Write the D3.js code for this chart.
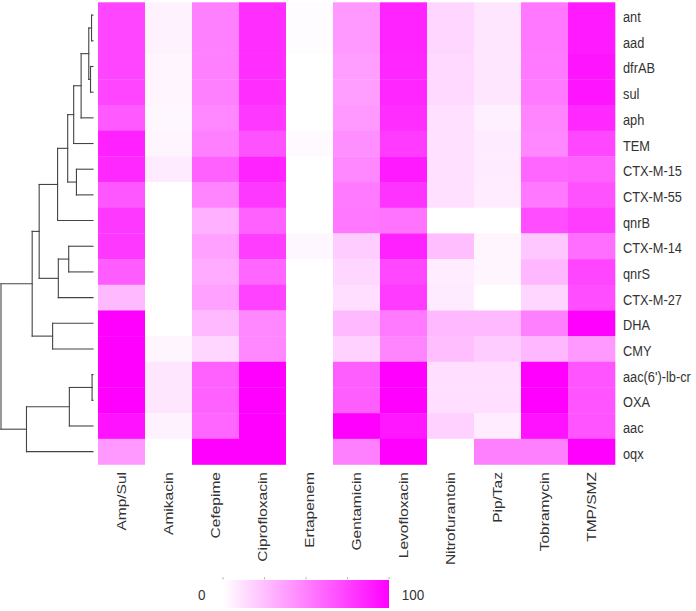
<!DOCTYPE html>
<html>
<head>
<meta charset="utf-8">
<script src="https://cdn.jsdelivr.net/npm/d3@7/dist/d3.min.js"></script>
<style>
  html, body { margin: 0; padding: 0; background: #fff; }
  svg { display: block; }
  text { font-family: "Liberation Sans", Arial, sans-serif; fill: #333; }
</style>
</head>
<body>
<svg id="chart" width="696" height="611"></svg>
<script>
// ---------- data ----------
const genes = ["ant","aad","dfrAB","sul","aph","TEM","CTX-M-15","CTX-M-55","qnrB",
  "CTX-M-14","qnrS","CTX-M-27","DHA","CMY","aac(6')-lb-cr","OXA","aac","oqx"];
const drugs = ["Amp/Sul","Amikacin","Cefepime","Ciprofloxacin","Ertapenem","Gentamicin",
  "Levofloxacin","Nitrofurantoin","Pip/Taz","Tobramycin","TMP/SMZ"];
// one row per gene, one value per drug (0-100)
const values = [
  [73, 5, 50, 82, 1, 40, 86, 16, 10, 53, 90],
  [73, 5, 50, 82, 1, 40, 86, 16, 10, 53, 90],
  [73, 4, 50, 82, 0, 38, 85, 15, 10, 52, 92],
  [73, 4, 50, 82, 0, 38, 85, 15, 10, 52, 92],
  [65, 3, 47, 78, 0, 40, 82, 12, 6, 48, 84],
  [87, 4, 50, 68, 2, 44, 77, 12, 8, 47, 72],
  [84, 8, 62, 86, 0, 47, 90, 12, 8, 60, 62],
  [66, 0, 48, 78, 0, 52, 80, 12, 7, 53, 68],
  [78, 0, 31, 62, 0, 53, 55, 0, 0, 70, 76],
  [78, 0, 37, 76, 3, 20, 87, 25, 4, 22, 57],
  [64, 0, 33, 60, 0, 16, 72, 7, 4, 28, 73],
  [27, 0, 37, 74, 0, 13, 77, 8, 0, 16, 70],
  [100, 0, 27, 47, 0, 27, 52, 27, 27, 50, 100],
  [100, 4, 16, 47, 0, 18, 48, 25, 20, 28, 40],
  [100, 10, 62, 100, 0, 63, 100, 13, 13, 100, 67],
  [100, 10, 62, 100, 0, 63, 100, 13, 13, 100, 67],
  [93, 5, 60, 100, 0, 100, 91, 18, 7, 93, 67],
  [40, 0, 100, 100, 0, 50, 100, 0, 50, 50, 100]
];
// hclust-style merges: negative = leaf (1-based gene index), positive = earlier merge (1-based)
const merges = [
  [-1, -2, 0.16],
  [-3, -4, 0.27],
  [1, 2, 0.46],
  [3, -5, 1.29],
  [-7, -8, 1.80],
  [4, -6, 2.10],
  [6, 5, 2.75],
  [7, -9, 3.85],
  [-10, -11, 2.64],
  [9, -12, 3.77],
  [8, 10, 5.85],
  [-13, -14, 4.39],
  [11, 12, 6.61],
  [-15, -16, 0.10],
  [14, -17, 2.57],
  [15, -18, 7.23],
  [13, 16, 10.0]
];
const legendTicks = [0, 25, 50, 75, 100];
const legendLabels = ["0", "100"];

// ---------- layout ----------
const svg = d3.select("#chart");
const x = d3.scaleBand().domain(drugs).range([98, 615]).padding(0);
const y = d3.scaleBand().domain(genes).range([2.3, 464.5]).padding(0);
const color = d3.scaleLinear().domain([0, 100]).range(["#ffffff", "#ff00ff"]).interpolate(d3.interpolateRgb);

// heatmap cells
const cells = [];
values.forEach((row, i) => row.forEach((v, j) => cells.push({ g: genes[i], d: drugs[j], v })));
svg.append("g").selectAll("rect").data(cells).join("rect")
  .attr("x", d => x(d.d))
  .attr("y", d => y(d.g))
  .attr("width", x.bandwidth() + 0.3)
  .attr("height", y.bandwidth() + 0.3)
  .attr("fill", d => color(d.v));

// dendrogram
const maxH = d3.max(merges, m => m[2]);
const hx = d3.scaleLinear().domain([0, maxH]).range([93, 1]);
const nodeY = [];
const nodeH = [];
function childPos(c) {
  if (c < 0) {
    const g = genes[-c - 1];
    return { y: y(g) + y.bandwidth() / 2, h: 0 };
  }
  return { y: nodeY[c - 1], h: nodeH[c - 1] };
}
const segs = [];
merges.forEach((m, k) => {
  const a = childPos(m[0]), b = childPos(m[1]);
  const h = m[2];
  segs.push([hx(h), a.y, hx(h), b.y]);
  segs.push([hx(h), a.y, hx(a.h), a.y]);
  segs.push([hx(h), b.y, hx(b.h), b.y]);
  nodeY[k] = (a.y + b.y) / 2;
  nodeH[k] = h;
});
svg.append("g").selectAll("line").data(segs).join("line")
  .attr("x1", d => d[0]).attr("y1", d => d[1])
  .attr("x2", d => d[2]).attr("y2", d => d[3])
  .attr("stroke", "#444").attr("stroke-width", 1.1)
  .attr("stroke-linecap", "square");

// row labels
svg.append("g").selectAll("text").data(genes).join("text")
  .attr("transform", g => `translate(623,${y(g) + y.bandwidth() / 2 + 7}) scale(1,1.1)`)
  .style("font-size", "12.8px")
  .text(g => g);

// column labels
svg.append("g").selectAll("text").data(drugs).join("text")
  .attr("transform", d => `translate(${x(d) + x.bandwidth() / 2 + 4.5},472) scale(1,1.15) rotate(-90)`)
  .attr("text-anchor", "end")
  .style("font-size", "13.5px")
  .text(d => d);

// legend
const lx = d3.scaleLinear().domain([0, 100]).range([223, 389]);
const defs = svg.append("defs");
const grad = defs.append("linearGradient").attr("id", "lg").attr("x1", "0%").attr("x2", "100%");
grad.selectAll("stop").data(legendTicks).join("stop")
  .attr("offset", d => d + "%")
  .attr("stop-color", d => color(d));
svg.append("rect")
  .attr("x", lx(0)).attr("y", 580)
  .attr("width", lx(100) - lx(0)).attr("height", 28)
  .attr("fill", "url(#lg)");
svg.append("g").selectAll("line").data(legendTicks).join("line")
  .attr("x1", d => lx(d)).attr("x2", d => lx(d))
  .attr("y1", 577).attr("y2", 579.5)
  .attr("stroke", "#bbb").attr("stroke-width", 1);
svg.append("g").selectAll("text").data(legendLabels).join("text")
  .attr("transform", (t, i) => `translate(${i === 0 ? 201.7 : 413},600) scale(1,1.15)`)
  .attr("text-anchor", "middle")
  .style("font-size", "13.5px")
  .text(t => t);
</script>
</body>
</html>
